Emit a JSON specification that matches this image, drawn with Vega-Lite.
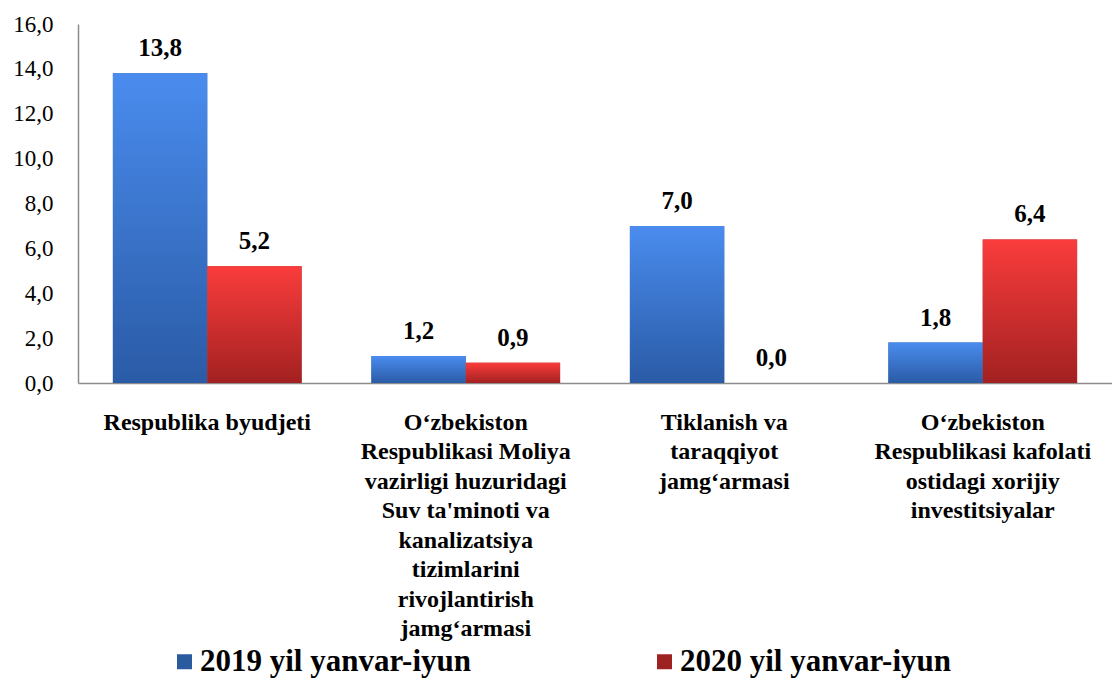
{
  "$schema": "https://vega.github.io/schema/vega-lite/v6.json",
  "width": 1034,
  "height": 359,
  "autosize": {"type": "none"},
  "padding": {"left": 78, "top": 24, "right": 0, "bottom": 299},
  "config": {
    "view": {"stroke": null},
    "font": "Liberation Serif",
    "locale": {"number": {"decimal": ",", "thousands": " ", "grouping": [3], "currency": ["", ""]}}
  },
  "data": {
    "values": [
      {"cat": "Respublika byudjeti", "year": "2019 yil yanvar-iyun", "value": 13.8},
      {"cat": "Respublika byudjeti", "year": "2020 yil yanvar-iyun", "value": 5.2},
      {"cat": "O‘zbekiston|Respublikasi Moliya|vazirligi huzuridagi|Suv ta'minoti va|kanalizatsiya|tizimlarini|rivojlantirish|jamg‘armasi", "year": "2019 yil yanvar-iyun", "value": 1.2},
      {"cat": "O‘zbekiston|Respublikasi Moliya|vazirligi huzuridagi|Suv ta'minoti va|kanalizatsiya|tizimlarini|rivojlantirish|jamg‘armasi", "year": "2020 yil yanvar-iyun", "value": 0.9},
      {"cat": "Tiklanish va|taraqqiyot|jamg‘armasi", "year": "2019 yil yanvar-iyun", "value": 7.0},
      {"cat": "Tiklanish va|taraqqiyot|jamg‘armasi", "year": "2020 yil yanvar-iyun", "value": 0.0},
      {"cat": "O‘zbekiston|Respublikasi kafolati|ostidagi xorijiy|investitsiyalar", "year": "2019 yil yanvar-iyun", "value": 1.8},
      {"cat": "O‘zbekiston|Respublikasi kafolati|ostidagi xorijiy|investitsiyalar", "year": "2020 yil yanvar-iyun", "value": 6.4}
    ]
  },
  "encoding": {
    "x": {
      "field": "cat", "type": "nominal", "sort": null, "title": null,
      "scale": {"paddingInner": 0.27, "paddingOuter": 0.135},
      "axis": {
        "labelExpr": "split(datum.value, '|')",
        "labelFont": "Liberation Serif",
        "labelAngle": 0, "labelFontSize": 24, "labelFontWeight": "bold", "labelColor": "black",
        "labelLineHeight": 29.5, "labelPadding": 27, "labelLimit": 300, "labelOverlap": false,
        "ticks": false, "domainColor": "#8c8c8c", "domainWidth": 1.5, "grid": false
      }
    },
    "xOffset": {"field": "year", "type": "nominal", "scale": {"paddingInner": 0, "paddingOuter": 0}},
    "y": {
      "field": "value", "type": "quantitative", "title": null,
      "scale": {"domain": [0, 16], "nice": false},
      "axis": {
        "values": [0, 2, 4, 6, 8, 10, 12, 14, 16], "format": ".1f",
        "labelFont": "Liberation Serif",
        "labelFontSize": 23, "labelColor": "black", "labelPadding": 25,
        "ticks": false, "grid": false, "domainColor": "#8c8c8c", "domainWidth": 1.5
      }
    }
  },
  "layer": [
    {
      "mark": {"type": "bar"},
      "encoding": {
        "color": {
          "field": "year", "type": "nominal",
          "scale": {"range": ["#2a5b9e", "#9e2222"]},
          "legend": {
            "orient": "none", "legendX": 91, "legendY": 622, "direction": "horizontal",
            "title": null, "symbolType": "square", "symbolSize": 225, "symbolStrokeWidth": 0,
            "labelFontSize": 31, "labelFontWeight": "bold", "labelColor": "black",
            "labelFont": "Liberation Serif", "labelLimit": 500, "columnPadding": 178, "labelOffset": 0
          }
        }
      }
    },
    {
      "mark": {"type": "bar"},
      "encoding": {
        "fill": {
          "condition": {
            "test": "datum.year === '2019 yil yanvar-iyun'",
            "value": {"gradient": "linear", "x1": 0, "y1": 0, "x2": 0, "y2": 1,
              "stops": [{"offset": 0, "color": "#4a8cee"}, {"offset": 1, "color": "#2a5ba6"}]}
          },
          "value": {"gradient": "linear", "x1": 0, "y1": 0, "x2": 0, "y2": 1,
            "stops": [{"offset": 0, "color": "#fa3c3c"}, {"offset": 1, "color": "#a32121"}]}
        }
      }
    },
    {
      "mark": {"type": "text", "baseline": "alphabetic", "dy": -17, "fontSize": 25, "fontWeight": "bold", "color": "black", "font": "Liberation Serif"},
      "encoding": {"text": {"field": "value", "type": "quantitative", "format": ".1f"}}
    }
  ]
}
